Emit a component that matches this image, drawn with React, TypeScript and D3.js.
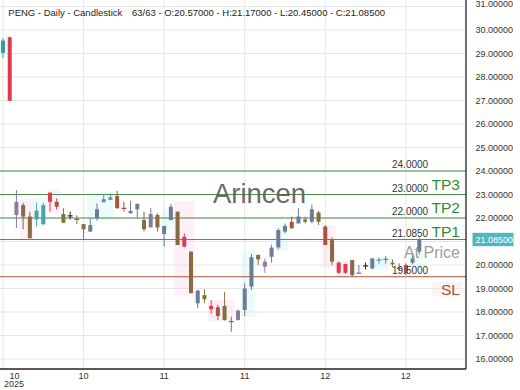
import React from "react";
import * as d3 from "d3";

const W = 520;
const H = 390;

// OHLC values (63 daily candles)
const opens = [29.03, 29.69, 22.13, 22.55, 22.06, 21.94, 21.74, 23.08, 22.69, 22.17, 22.09, 21.94, 21.74, 21.42, 21.99, 22.67, 22.77, 22.94, 22.41, 22.2, 22.37, 21.91, 21.6, 22.13, 21.32, 21.91, 22.27, 21.2, 20.57, 18.37, 18.54, 18.26, 18.2, 18.26, 17.59, 17.66, 18.09, 19.08, 20.43, 19.93, 20.35, 20.75, 21.42, 21.84, 21.77, 21.94, 21.84, 22.23, 21.63, 21.06, 20.1, 20.04, 20.21, 19.65, 19.96, 19.86, 20.21, 20.24, 20.03, 19.86, 20.0, 20.1, 20.57];
const closes = [29.55, 26.99, 22.69, 22.06, 21.14, 22.31, 22.55, 22.69, 22.48, 21.8, 22.09, 21.94, 21.52, 21.7, 22.37, 22.8, 22.88, 22.41, 22.41, 22.3, 22.6, 21.52, 22.17, 21.6, 21.66, 22.48, 20.85, 20.78, 18.8, 18.91, 18.72, 18.12, 17.83, 17.66, 17.59, 18.06, 19.0, 20.33, 20.24, 20.14, 20.74, 21.49, 21.66, 21.56, 22.06, 21.84, 22.37, 21.84, 20.85, 20.14, 19.67, 19.67, 19.57, 19.65, 19.96, 20.28, 20.21, 20.24, 20.1, 19.86, 19.65, 20.28, 21.085];
const highs = [29.65, 29.72, 23.19, 22.65, 22.27, 22.65, 22.65, 23.08, 22.83, 22.42, 22.27, 22.11, 21.74, 21.98, 22.62, 23.02, 23.05, 23.16, 22.69, 22.74, 22.62, 22.27, 22.42, 22.2, 21.66, 22.6, 22.27, 21.35, 20.57, 18.94, 18.97, 18.5, 18.3, 18.86, 17.8, 18.1, 19.22, 20.47, 20.43, 20.28, 20.86, 21.56, 21.77, 22.06, 22.41, 22.06, 22.58, 22.3, 21.7, 21.17, 20.14, 20.04, 20.21, 20.0, 20.1, 20.28, 20.33, 20.38, 20.24, 20.07, 20.07, 20.5, 21.17];
const lows = [28.8, 26.97, 21.57, 21.52, 21.14, 21.63, 21.7, 22.27, 22.36, 21.78, 21.94, 21.74, 21.06, 21.42, 21.89, 22.67, 22.77, 22.41, 22.27, 22.2, 21.98, 21.43, 21.6, 21.43, 20.78, 21.91, 20.85, 20.75, 18.8, 18.16, 18.37, 17.93, 17.66, 17.63, 17.16, 17.63, 17.83, 18.94, 20.0, 19.67, 20.1, 20.66, 21.35, 21.56, 21.77, 21.77, 21.77, 21.7, 20.85, 20.0, 19.63, 19.63, 19.5, 19.63, 19.81, 19.81, 20.05, 20.05, 19.91, 19.77, 19.57, 20.03, 20.45];
const tones = ["G", "R", "P", "B", "B", "T", "T", "R", "RB", "O", "K", "B", "O", "S", "S", "T", "T", "RB", "RB", "S", "S", "B", "P", "B", "S", "S", "B", "R", "B", "S", "O", "R", "RB", "O", "B", "P", "S", "S", "B", "P", "S", "S", "S", "RB", "S", "O", "S", "B", "RB", "B", "R", "R", "B", "S", "K", "S", "T", "S", "O", "B", "RB", "S", "S"];
const toneColor: Record<string, string> = {
  G: "#26a69a",
  R: "#dc3a50",
  P: "#8c7c9c",
  B: "#8a6a42",
  T: "#4f9fa4",
  RB: "#b0503e",
  O: "#7f7440",
  K: "#222222",
  S: "#6a7c96",
};

// highlight zones behind candle groups (index range, value range)
const zoneFrom = [2.5, 4.5, 6.5, 12.5, 23.5, 25.5, 30.5, 35.5, 40.5, 47.5, 49.5, 54.5, 60.5];
const zoneTo = [4.5, 6.5, 8.5, 16.5, 25.5, 28.5, 34.5, 37.5, 42.5, 49.5, 52.5, 57.5, 62.5];
const zoneHigh = [22.8, 22.9, 23.2, 23.1, 22.3, 22.7, 18.5, 20.6, 21.7, 21.7, 20.2, 20.3, 20.6];
const zoneLow = [21.1, 21.7, 22.2, 21.9, 21.5, 18.7, 17.6, 17.8, 20.6, 19.9, 19.5, 19.8, 19.8];
const zoneKind = ["p", "c", "p", "c", "c", "p", "p", "c", "c", "p", "p", "c", "c"];

// levels
const levelValues = [24, 23, 22, 21.085, 19.5];
const levelPriceText = ["24.0000", "23.0000", "22.0000", "21.0850", "19.5000"];
const levelNames = ["TP3", "TP2", "TP1", "At Price", "SL"];
const levelLineColors = ["#4e8f4e", "#4e8f4e", "#4e8f4e", "#777777", "#a0573a"];
const levelNameColors = ["#2f8f2f", "#2f8f2f", "#2f8f2f", "#8e8e8e", "#a0522d"];

// axes
const yTicks = d3.range(16, 32);
const xTickIndex = [0, 12, 24, 36, 48, 60];
const xTickLabels = ["10", "10", "11", "11", "12", "12"];
const yearLabel = "2025";
const headerTitle = "PENG - Daily - Candlestick";
const headerValues = "63/63 - O:20.57000 - H:21.17000 - L:20.45000 - C:21.08500";
const lastPrice = 21.085;

const FONT = "'Liberation Sans', Arial, sans-serif";

export default function App() {
  const plotRight = 466;
  const plotBottom = 369;
  const x = d3.scaleLinear().domain([0, 62]).range([3, 419.3]);
  const y = d3.scaleLinear().domain([16, 24]).range([359, 171]);
  const bw = 4;
  const boxTop = y(lastPrice) - 6.7;
  const boxBottom = y(lastPrice) + 6.7;

  return (
    <svg
      width={W}
      height={H}
      style={{ position: "fixed", left: 0, top: 0, background: "#fff" }}
      fontFamily={FONT}
    >
      <rect x={0} y={0} width={W} height={H} fill="#fff" />
      {/* grid */}
      {yTicks.map((t) => (
        <line key={"gy" + t} x1={0} x2={plotRight} y1={y(t)} y2={y(t)} stroke="#e6e6e6" strokeWidth={1} />
      ))}
      {xTickIndex.map((i) => (
        <line key={"gx" + i} x1={x(i)} x2={x(i)} y1={0} y2={plotBottom} stroke="#e6e6e6" strokeWidth={1} />
      ))}
      {/* zones */}
      {zoneFrom.map((f, k) => (
        <rect
          key={"z" + k}
          x={x(f)}
          width={x(zoneTo[k]) - x(f)}
          y={y(zoneHigh[k])}
          height={y(zoneLow[k]) - y(zoneHigh[k])}
          fill={zoneKind[k] === "p" ? "#ffd6e8" : "#d2f4f6"}
          opacity={0.38}
        />
      ))}
      {/* label backgrounds */}
      <rect x={432} y={y(19.5) + 5} width={30} height={15} fill="#ffd6e8" opacity={0.3} />
      {/* level lines */}
      {levelValues.map((v, k) => (
        <line key={"l" + k} x1={0} x2={plotRight} y1={y(v)} y2={y(v)} stroke={levelLineColors[k]} strokeWidth={1.2} />
      ))}
      {/* watermark */}
      <text x={259.5} y={202.5} textAnchor="middle" fontSize={27.5} fill="#5a5a5a" opacity={0.9}>
        Arincen
      </text>
      {/* candles */}
      {opens.map((o, i) => {
        const c = closes[i];
        const col = toneColor[tones[i]];
        const top = y(Math.max(o, c));
        const bot = y(Math.min(o, c));
        const cx = x(i);
        const doji = bot - top < 1.2;
        return (
          <g key={"c" + i}>
            <line x1={cx} x2={cx} y1={y(highs[i])} y2={y(lows[i])} stroke={col} strokeWidth={1} />
            {doji ? (
              <line x1={cx - 2.5} x2={cx + 2.5} y1={top} y2={top} stroke={col} strokeWidth={1.2} />
            ) : (
              <rect x={cx - bw / 2} y={top} width={bw} height={bot - top} fill={col} />
            )}
          </g>
        );
      })}
      {/* level texts */}
      {levelValues.map((v, k) => (
        <g key={"lt" + k}>
          <text x={392} y={y(v) - 3} fontSize={10} fill="#333">
            {levelPriceText[k]}
          </text>
          <text
            x={460}
            y={y(v) + 18.7}
            textAnchor="end"
            fontSize={levelNames[k] === "At Price" ? 16 : 15.5}
            fill={levelNameColors[k]}
            opacity={levelNames[k] === "At Price" ? 0.85 : 1}
          >
            {levelNames[k]}
          </text>
        </g>
      ))}
      {/* axes lines */}
      <line x1={plotRight} x2={plotRight} y1={0} y2={plotBottom} stroke="#222" strokeWidth={1.3} />
      <line x1={0} x2={plotRight} y1={plotBottom} y2={plotBottom} stroke="#222" strokeWidth={1.3} />
      {/* right axis labels (the one under the last-price box is hidden) */}
      {yTicks
        .filter((t) => y(t) + 3 < boxTop || y(t) - 4 > boxBottom)
        .map((t) => (
          <text key={"yl" + t} x={475.5} y={t === 31 ? 6.7 : y(t) + 3} fontSize={9} fill="#333">
            {t.toFixed(5)}
          </text>
        ))}
      {/* last price label */}
      <rect x={472.5} y={boxTop} width={41} height={13.4} fill="#52b6c0" />
      <text x={475.5} y={y(lastPrice) + 3.2} fontSize={9} fill="#fff">
        {lastPrice.toFixed(5)}
      </text>
      {/* bottom axis labels */}
      {xTickIndex.map((i, k) => (
        <text key={"xl" + i} x={Math.max(x(i), 14.5)} y={378.5} textAnchor="middle" fontSize={9} fill="#333">
          {xTickLabels[k]}
        </text>
      ))}
      <text x={14} y={387} textAnchor="middle" fontSize={9} fill="#333">
        {yearLabel}
      </text>
      {/* header */}
      <text x={8.3} y={15.7} fontSize={9.5} fill="#222">
        {headerTitle}
      </text>
      <text x={132} y={15.7} fontSize={9.5} fill="#222">
        {headerValues}
      </text>
    </svg>
  );
}
